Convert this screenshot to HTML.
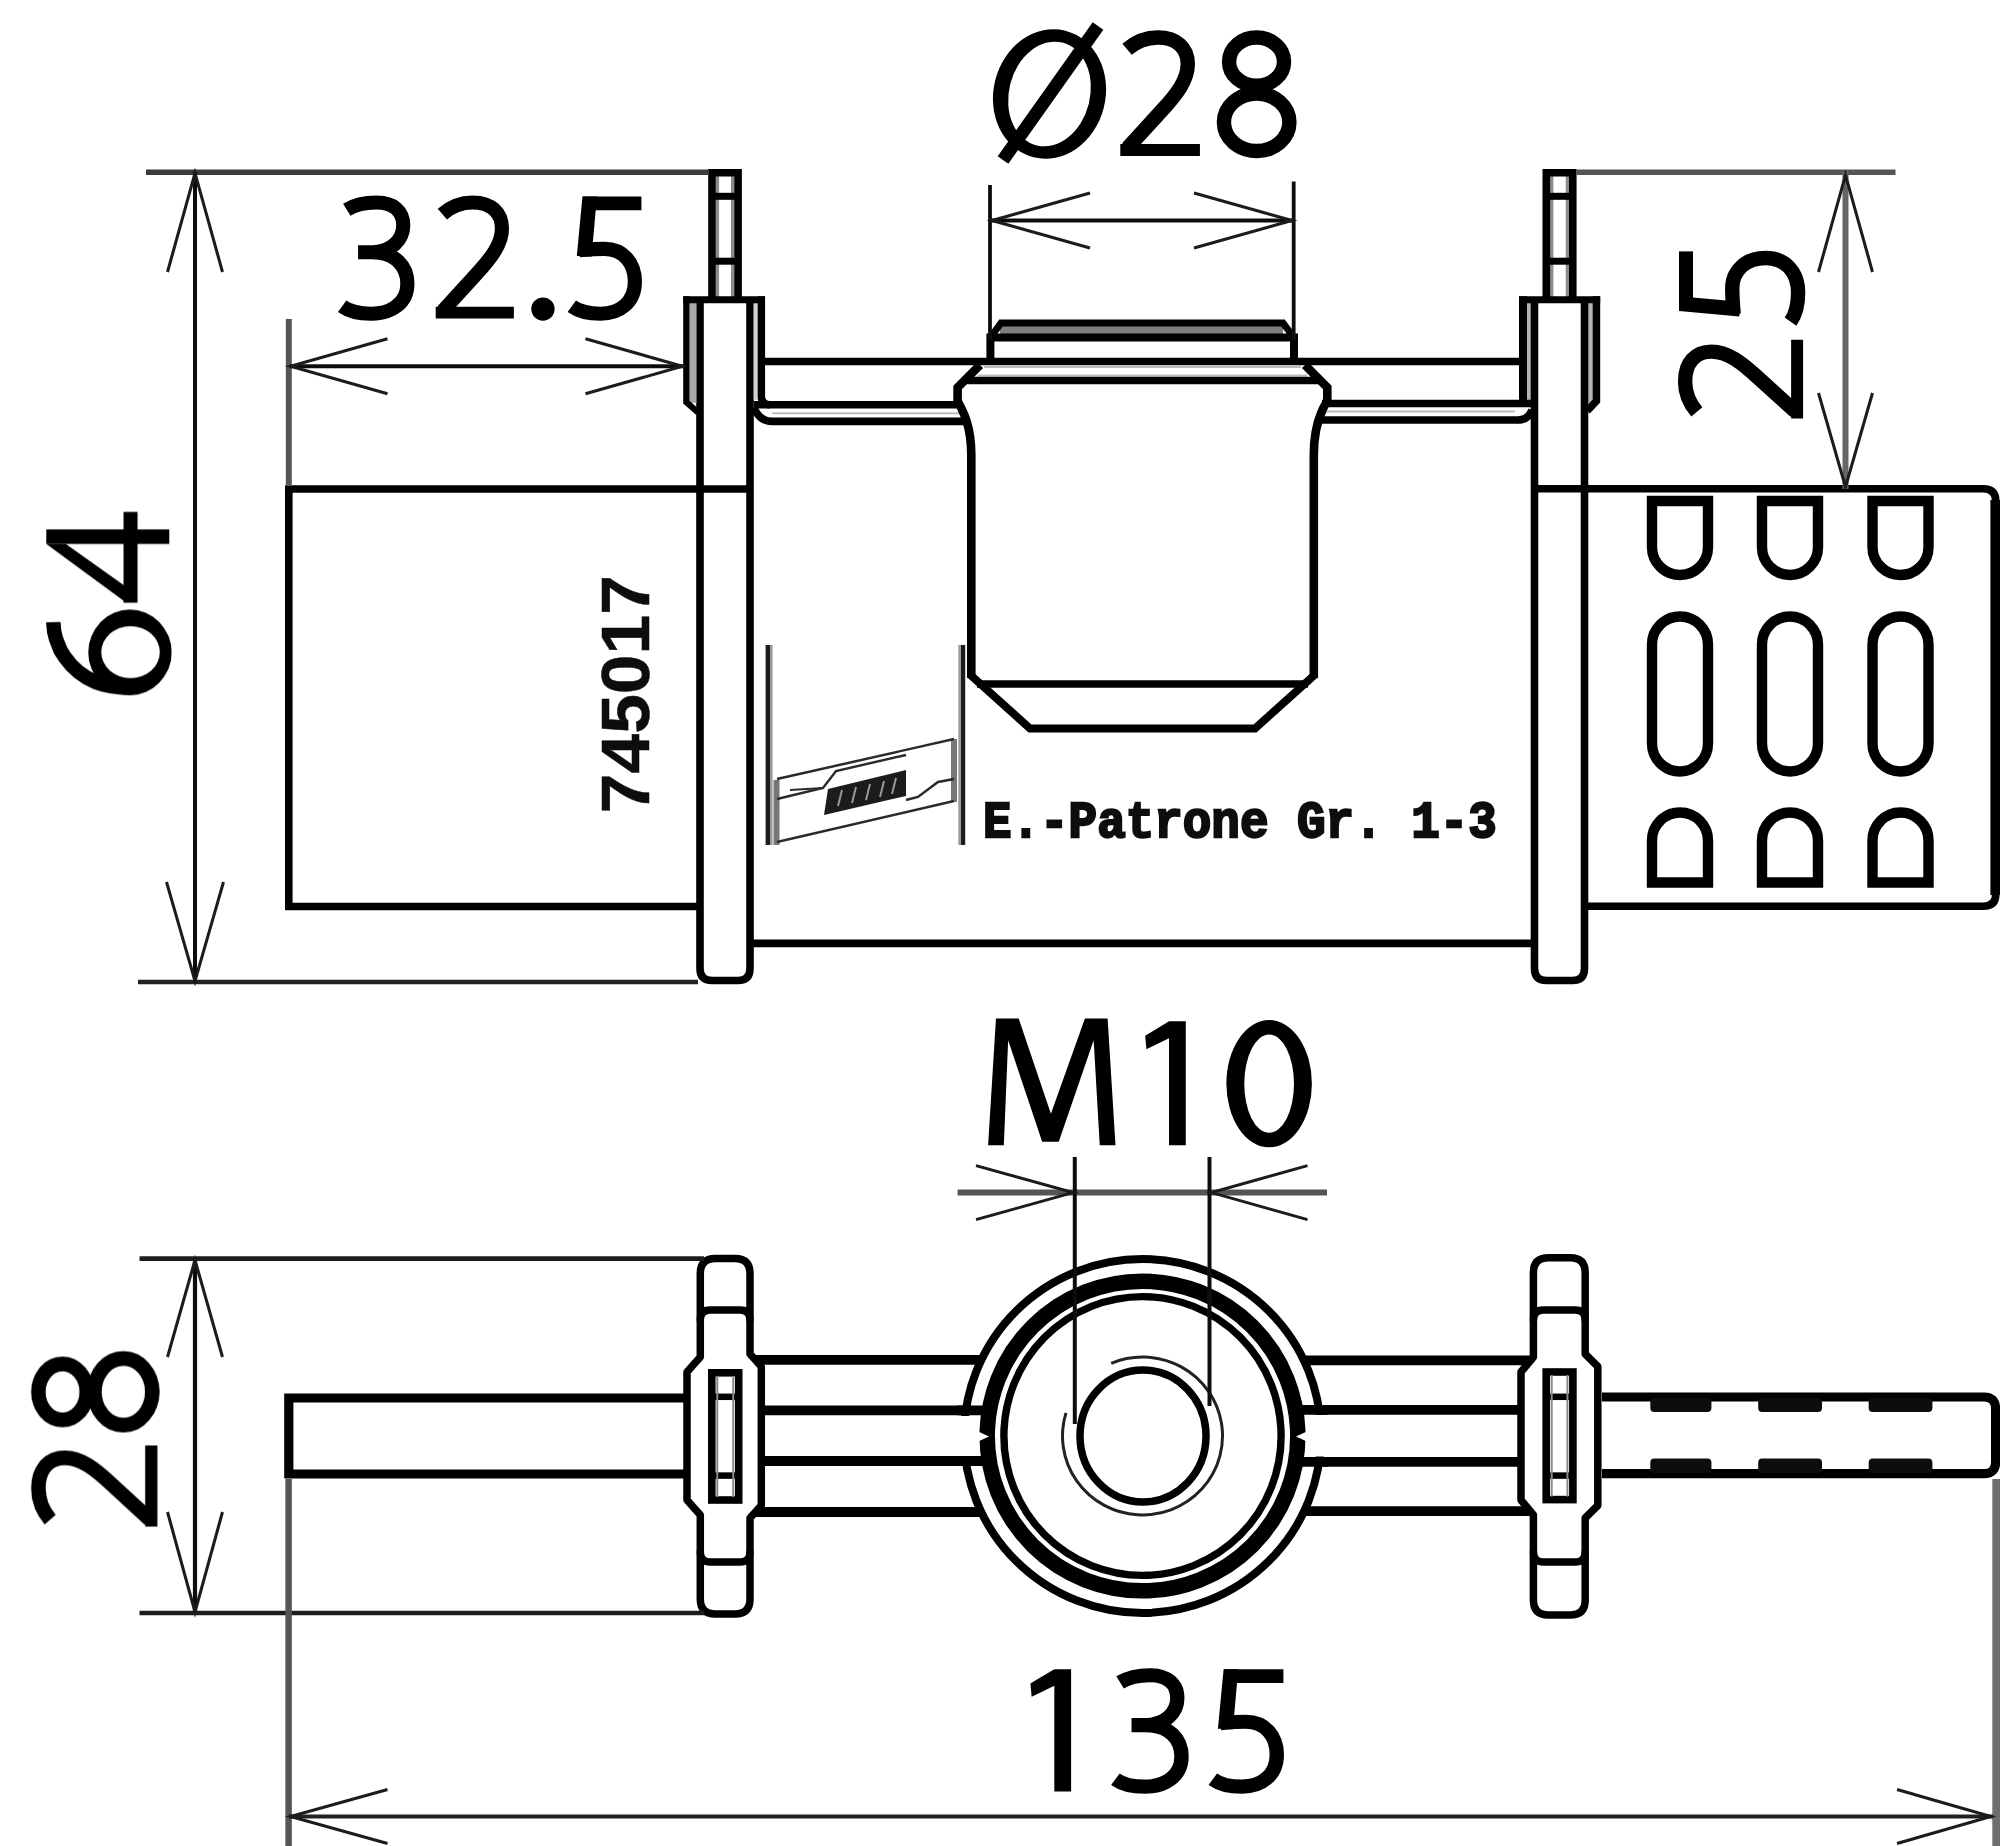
<!DOCTYPE html>
<html><head><meta charset="utf-8"><title>Drawing</title>
<style>html,body{margin:0;padding:0;background:#fff}svg{display:block}</style></head>
<body>
<svg width="2000" height="1846" viewBox="0 0 2000 1846">
<rect width="2000" height="1846" fill="#fff"/>
<defs><filter id="soft" x="0" y="0" width="2000" height="1846" filterUnits="userSpaceOnUse"><feGaussianBlur stdDeviation="0.75"/></filter></defs>
<g filter="url(#soft)">
<g id="topview">
<path d="M700,489 H288.8 V906.5 H700" fill="none" stroke="#000" stroke-width="7.6" stroke-linejoin="miter" stroke-linecap="butt"/>
<line x1="700" y1="489" x2="750" y2="489" stroke="#000" stroke-width="7.6" stroke-linecap="butt"/>
<path d="M700,300 V968.5 Q700,980.5 712,980.5 H738 Q750,980.5 750,968.5 V300" fill="none" stroke="#000" stroke-width="7.6" stroke-linejoin="miter" stroke-linecap="butt"/>
<line x1="717.4" y1="176" x2="717.4" y2="297" stroke="#8c8c8c" stroke-width="3.4" stroke-linecap="butt"/>
<line x1="732.7" y1="176" x2="732.7" y2="297" stroke="#8c8c8c" stroke-width="3.4" stroke-linecap="butt"/>
<path d="M712,300 V172.8 H738.1 V300" fill="none" stroke="#000" stroke-width="7.6" stroke-linejoin="miter" stroke-linecap="butt"/>
<line x1="712" y1="196.3" x2="738.1" y2="196.3" stroke="#000" stroke-width="7" stroke-linecap="butt"/>
<line x1="712" y1="261.2" x2="738.1" y2="261.2" stroke="#000" stroke-width="7" stroke-linecap="butt"/>
<line x1="1551.7" y1="176" x2="1551.7" y2="297" stroke="#8c8c8c" stroke-width="3.4" stroke-linecap="butt"/>
<line x1="1567.3999999999999" y1="176" x2="1567.3999999999999" y2="297" stroke="#8c8c8c" stroke-width="3.4" stroke-linecap="butt"/>
<path d="M1546.3,300 V172.8 H1572.8 V300" fill="none" stroke="#000" stroke-width="7.6" stroke-linejoin="miter" stroke-linecap="butt"/>
<line x1="1546.3" y1="196.3" x2="1572.8" y2="196.3" stroke="#000" stroke-width="7" stroke-linecap="butt"/>
<line x1="1546.3" y1="261.2" x2="1572.8" y2="261.2" stroke="#000" stroke-width="7" stroke-linecap="butt"/>
<rect x="689" y="303" width="7.4" height="100" fill="#a9a9a9"/>
<rect x="753.6" y="303" width="4.4" height="97" fill="#d2d2d2"/>
<path d="M765,299.8 H683.2" fill="none" stroke="#000" stroke-width="7" stroke-linejoin="miter" stroke-linecap="butt"/>
<path d="M686.3,296.3 V402 L698,412.5" fill="none" stroke="#000" stroke-width="6.2" stroke-linejoin="miter" stroke-linecap="butt"/>
<path d="M761.4,296.3 V396 Q761.4,404.8 770,404.8" fill="none" stroke="#000" stroke-width="7.4" stroke-linejoin="miter" stroke-linecap="butt"/>
<rect x="1527" y="303" width="4.4" height="97" fill="#b5b5b5"/>
<rect x="1588" y="303" width="4.6" height="100" fill="#b5b5b5"/>
<path d="M1519.2,299.8 H1600.2" fill="none" stroke="#000" stroke-width="7" stroke-linejoin="miter" stroke-linecap="butt"/>
<path d="M1596.4,296.3 V401 L1587,411" fill="none" stroke="#000" stroke-width="7.6" stroke-linejoin="miter" stroke-linecap="butt"/>
<path d="M1523,296.3 V400" fill="none" stroke="#000" stroke-width="8" stroke-linejoin="miter" stroke-linecap="butt"/>
<path d="M1534.5,300 V968.5 Q1534.5,980.5 1546.5,980.5 H1572.5 Q1584.5,980.5 1584.5,968.5 V300" fill="none" stroke="#000" stroke-width="7.6" stroke-linejoin="miter" stroke-linecap="butt"/>
<line x1="761.4" y1="361.5" x2="1523" y2="361.5" stroke="#000" stroke-width="7.6" stroke-linecap="butt"/>
<path d="M754,404.8 H958" fill="none" stroke="#000" stroke-width="7.6" stroke-linejoin="miter" stroke-linecap="butt"/>
<path d="M754,408 Q760,421.4 772,421.4 H966" fill="none" stroke="#000" stroke-width="7.6" stroke-linejoin="miter" stroke-linecap="butt"/>
<line x1="772" y1="413.2" x2="960" y2="413.2" stroke="#bbb" stroke-width="2" stroke-linecap="butt"/>
<path d="M1322,403.5 H1534" fill="none" stroke="#000" stroke-width="7.6" stroke-linejoin="miter" stroke-linecap="butt"/>
<path d="M1318,420 H1518 Q1528,420 1532,410" fill="none" stroke="#000" stroke-width="7.6" stroke-linejoin="miter" stroke-linecap="butt"/>
<line x1="1326" y1="411.5" x2="1515" y2="411.5" stroke="#bbb" stroke-width="2" stroke-linecap="butt"/>
<rect x="1000" y="326" width="283" height="9" fill="#7d7d7d"/>
<path d="M990.4,361 V337.5 H1294 V361" fill="none" stroke="#000" stroke-width="8" stroke-linejoin="miter" stroke-linecap="butt"/>
<path d="M990.5,337.5 L1001,323 H1283 L1293.8,337.5" fill="none" stroke="#000" stroke-width="7" stroke-linejoin="miter" stroke-linecap="butt"/>
<line x1="984" y1="367" x2="1301" y2="367" stroke="#bdbdbd" stroke-width="2" stroke-linecap="butt"/>
<line x1="978" y1="375.6" x2="1307" y2="375.6" stroke="#bdbdbd" stroke-width="2" stroke-linecap="butt"/>
<path d="M980,365 L957.6,387.5 V401 C962.5,410 971.3,425 971.3,455 V678" fill="none" stroke="#000" stroke-width="8.6" stroke-linejoin="miter" stroke-linecap="butt"/>
<path d="M1313.8,678 V455 C1313.8,425 1321.5,410 1327.3,401 V387.5 L1305,365" fill="none" stroke="#000" stroke-width="8.6" stroke-linejoin="miter" stroke-linecap="butt"/>
<path d="M970.5,675 L1030,728.5 H1255 L1314.5,675" fill="none" stroke="#000" stroke-width="7.8" stroke-linejoin="miter" stroke-linecap="butt"/>
<line x1="962" y1="380.5" x2="1322" y2="380.5" stroke="#000" stroke-width="7.6" stroke-linecap="butt"/>
<line x1="977" y1="684" x2="1308" y2="684" stroke="#000" stroke-width="7.6" stroke-linecap="butt"/>
<line x1="750" y1="943.3" x2="1534.5" y2="943.3" stroke="#000" stroke-width="7.8" stroke-linecap="butt"/>
<line x1="767.8" y1="645" x2="767.8" y2="845" stroke="#1c1c1c" stroke-width="4.4" stroke-linecap="butt"/>
<line x1="771.3" y1="645" x2="771.3" y2="845" stroke="#9a9a9a" stroke-width="2.6" stroke-linecap="butt"/>
<line x1="963" y1="645" x2="963" y2="845" stroke="#1c1c1c" stroke-width="4.4" stroke-linecap="butt"/>
<line x1="959.6" y1="645" x2="959.6" y2="845" stroke="#9a9a9a" stroke-width="2.6" stroke-linecap="butt"/>
<line x1="776.5" y1="780" x2="776.5" y2="845" stroke="#777" stroke-width="6" stroke-linecap="butt"/>
<line x1="954" y1="739" x2="954" y2="802" stroke="#777" stroke-width="6" stroke-linecap="butt"/>
<path d="M777,779 L954,739" fill="none" stroke="#2a2a2a" stroke-width="2.4" stroke-linejoin="miter" stroke-linecap="butt"/>
<path d="M777,842 L954,801" fill="none" stroke="#2a2a2a" stroke-width="2.4" stroke-linejoin="miter" stroke-linecap="butt"/>
<path d="M777,799 L823,788 L836,771 L906,755" fill="none" stroke="#2a2a2a" stroke-width="2.4" stroke-linejoin="miter" stroke-linecap="butt"/>
<path d="M906,800 L918,797 L938,782 L954,779" fill="none" stroke="#2a2a2a" stroke-width="2.4" stroke-linejoin="miter" stroke-linecap="butt"/>
<path d="M823,788 L790,790" fill="none" stroke="#2a2a2a" stroke-width="2.0" stroke-linejoin="miter" stroke-linecap="butt"/>
<path d="M828,789 L906,770 L906,796 L824,815 Z" fill="#1a1a1a"/>
<path d="M842,790 L838,806 M856,787 L852,803 M870,784 L866,800 M884,781 L880,797 M896,778 L892,794" fill="none" stroke="#999" stroke-width="2" stroke-linejoin="miter" stroke-linecap="butt"/>
<path d="M1584.5,488.7 H1983 Q1995.8,488.7 1995.8,501 V894 Q1995.8,906.3 1983,906.3 H1584.5" fill="none" stroke="#000" stroke-width="7.6" stroke-linejoin="miter" stroke-linecap="butt"/>
<line x1="1534.5" y1="488.7" x2="1584.5" y2="488.7" stroke="#000" stroke-width="7.6" stroke-linecap="butt"/>
<line x1="1995.2" y1="500" x2="1995.2" y2="895" stroke="#000" stroke-width="9.6" stroke-linecap="butt"/>
<path d="M1652,501 H1708 V547 A28,28 0 0 1 1652,547 Z" fill="none" stroke="#000" stroke-width="10.4" stroke-linejoin="miter" stroke-linecap="butt"/>
<path d="M1652,644.5 A28,28 0 0 1 1708,644.5 V743.5 A28,28 0 0 1 1652,743.5 Z" fill="none" stroke="#000" stroke-width="10.4" stroke-linejoin="miter" stroke-linecap="butt"/>
<path d="M1652,882.5 H1708 V840.5 A28,28 0 0 0 1652,840.5 Z" fill="none" stroke="#000" stroke-width="10.4" stroke-linejoin="miter" stroke-linecap="butt"/>
<path d="M1762,501 H1818 V547 A28,28 0 0 1 1762,547 Z" fill="none" stroke="#000" stroke-width="10.4" stroke-linejoin="miter" stroke-linecap="butt"/>
<path d="M1762,644.5 A28,28 0 0 1 1818,644.5 V743.5 A28,28 0 0 1 1762,743.5 Z" fill="none" stroke="#000" stroke-width="10.4" stroke-linejoin="miter" stroke-linecap="butt"/>
<path d="M1762,882.5 H1818 V840.5 A28,28 0 0 0 1762,840.5 Z" fill="none" stroke="#000" stroke-width="10.4" stroke-linejoin="miter" stroke-linecap="butt"/>
<path d="M1872.5,501 H1928.5 V547 A28,28 0 0 1 1872.5,547 Z" fill="none" stroke="#000" stroke-width="10.4" stroke-linejoin="miter" stroke-linecap="butt"/>
<path d="M1872.5,644.5 A28,28 0 0 1 1928.5,644.5 V743.5 A28,28 0 0 1 1872.5,743.5 Z" fill="none" stroke="#000" stroke-width="10.4" stroke-linejoin="miter" stroke-linecap="butt"/>
<path d="M1872.5,882.5 H1928.5 V840.5 A28,28 0 0 0 1872.5,840.5 Z" fill="none" stroke="#000" stroke-width="10.4" stroke-linejoin="miter" stroke-linecap="butt"/>
</g>
<g id="botview">
<line x1="752" y1="1359.8" x2="984" y2="1359.8" stroke="#000" stroke-width="9.799999999999999" stroke-linecap="butt"/>
<line x1="764" y1="1410.4" x2="990" y2="1410.4" stroke="#000" stroke-width="9.799999999999999" stroke-linecap="butt"/>
<line x1="764" y1="1461" x2="990" y2="1461" stroke="#000" stroke-width="9.799999999999999" stroke-linecap="butt"/>
<line x1="752" y1="1512" x2="984" y2="1512" stroke="#000" stroke-width="9.799999999999999" stroke-linecap="butt"/>
<line x1="1300" y1="1360.4" x2="1532" y2="1360.4" stroke="#000" stroke-width="9.799999999999999" stroke-linecap="butt"/>
<line x1="1294" y1="1409.8" x2="1519" y2="1409.8" stroke="#000" stroke-width="9.799999999999999" stroke-linecap="butt"/>
<line x1="1294" y1="1461.8" x2="1519" y2="1461.8" stroke="#000" stroke-width="9.799999999999999" stroke-linecap="butt"/>
<line x1="1300" y1="1511.2" x2="1532" y2="1511.2" stroke="#000" stroke-width="9.799999999999999" stroke-linecap="butt"/>
<ellipse cx="1142.5" cy="1436" rx="178.5" ry="177" fill="#fff" stroke="#000" stroke-width="8"/>
<rect x="955" y="1416" width="22" height="40" fill="#fff"/>
<rect x="1307" y="1415" width="24" height="41.5" fill="#fff"/>
<line x1="957" y1="1410.4" x2="990" y2="1410.4" stroke="#000" stroke-width="9.799999999999999" stroke-linecap="butt"/>
<line x1="957" y1="1461" x2="990" y2="1461" stroke="#000" stroke-width="9.799999999999999" stroke-linecap="butt"/>
<line x1="1294" y1="1409.8" x2="1328" y2="1409.8" stroke="#000" stroke-width="9.799999999999999" stroke-linecap="butt"/>
<line x1="1294" y1="1461.8" x2="1328" y2="1461.8" stroke="#000" stroke-width="9.799999999999999" stroke-linecap="butt"/>
<ellipse cx="1142.5" cy="1436" rx="155.3" ry="154.8" fill="#fff" stroke="#000" stroke-width="15.5"/>
<ellipse cx="1142.5" cy="1436" rx="138.6" ry="139.4" fill="none" stroke="#000" stroke-width="7.4"/>
<path d="M977,1431 L989,1436.5 L977,1442 Z" fill="#fff"/>
<path d="M1308,1431 L1296,1436.5 L1308,1442 Z" fill="#fff"/>
<ellipse cx="1143" cy="1436" rx="63" ry="66" fill="none" stroke="#000" stroke-width="7.5"/>
<path d="M1111.2,1363.3 A80,79 0 1 1 1066.0,1412.9" fill="none" stroke="#222" stroke-width="3"/>
<path d="M715.3,1258.6 Q700.3,1258.6 700.3,1273.6 V1357 L687,1372 V1500 L700.3,1515 V1599 Q700.3,1614 715.3,1614 H735 Q750,1614 750,1599 V1518 L761.3,1505.5 V1366.5 L750,1354 V1273.6 Q750,1258.6 735,1258.6 Z" fill="#fff" stroke="#000" stroke-width="7.5" stroke-linejoin="round" stroke-linecap="butt"/>
<path d="M700.3,1320 Q700.3,1310 710.3,1310 H740 Q750,1310 750,1320" fill="none" stroke="#000" stroke-width="7.4" stroke-linejoin="miter" stroke-linecap="round"/>
<path d="M700.3,1552 Q700.3,1562 710.3,1562 H740 Q750,1562 750,1552" fill="none" stroke="#000" stroke-width="7.4" stroke-linejoin="miter" stroke-linecap="round"/>
<rect x="711.8" y="1372.8" width="26.90000000000009" height="127.20000000000005" fill="#fff" stroke="#000" stroke-width="7.6"/>
<line x1="711.8" y1="1396.8" x2="738.7" y2="1396.8" stroke="#000" stroke-width="6.5" stroke-linecap="butt"/>
<line x1="711.8" y1="1475.6" x2="738.7" y2="1475.6" stroke="#000" stroke-width="6.5" stroke-linecap="butt"/>
<line x1="717.3" y1="1375.8" x2="717.3" y2="1497" stroke="#8a8a8a" stroke-width="2" stroke-linecap="butt"/>
<line x1="733.2" y1="1375.8" x2="733.2" y2="1497" stroke="#8a8a8a" stroke-width="2" stroke-linecap="butt"/>
<path d="M1548.4,1257.8 Q1533.4,1257.8 1533.4,1272.8 V1357 L1521,1372 V1500 L1533.4,1515 V1600 Q1533.4,1615 1548.4,1615 H1570.2 Q1585.2,1615 1585.2,1600 V1518 L1597.8,1505.5 V1366.5 L1585.2,1354 V1272.8 Q1585.2,1257.8 1570.2,1257.8 Z" fill="#fff" stroke="#000" stroke-width="7.5" stroke-linejoin="round" stroke-linecap="butt"/>
<path d="M1533.4,1320 Q1533.4,1310 1543.4,1310 H1575.2 Q1585.2,1310 1585.2,1320" fill="none" stroke="#000" stroke-width="7.4" stroke-linejoin="miter" stroke-linecap="round"/>
<path d="M1533.4,1552 Q1533.4,1562 1543.4,1562 H1575.2 Q1585.2,1562 1585.2,1552" fill="none" stroke="#000" stroke-width="7.4" stroke-linejoin="miter" stroke-linecap="round"/>
<rect x="1546.2" y="1372" width="26.700000000000045" height="127.59999999999991" fill="#fff" stroke="#000" stroke-width="7.6"/>
<line x1="1546.2" y1="1396.8" x2="1572.9" y2="1396.8" stroke="#000" stroke-width="6.5" stroke-linecap="butt"/>
<line x1="1546.2" y1="1475.6" x2="1572.9" y2="1475.6" stroke="#000" stroke-width="6.5" stroke-linecap="butt"/>
<line x1="1551.7" y1="1375" x2="1551.7" y2="1496.6" stroke="#8a8a8a" stroke-width="2" stroke-linecap="butt"/>
<line x1="1567.4" y1="1375" x2="1567.4" y2="1496.6" stroke="#8a8a8a" stroke-width="2" stroke-linecap="butt"/>
<path d="M685,1398 H288.8 V1474 H685" fill="none" stroke="#000" stroke-width="9.2" stroke-linejoin="miter" stroke-linecap="butt"/>
<path d="M1602,1397 H1984 Q1995.6,1397 1995.6,1409 V1462 Q1995.6,1473.6 1984,1473.6 H1602" fill="none" stroke="#000" stroke-width="9.2" stroke-linejoin="miter" stroke-linecap="butt"/>
<rect x="1650.3" y="1398" width="61.100000000000136" height="14" rx="4" fill="#111"/>
<rect x="1650.3" y="1458.5" width="61.100000000000136" height="14.5" rx="4" fill="#111"/>
<rect x="1758.2" y="1398" width="63.799999999999955" height="14" rx="4" fill="#111"/>
<rect x="1758.2" y="1458.5" width="63.799999999999955" height="14.5" rx="4" fill="#111"/>
<rect x="1868.7" y="1398" width="63.700000000000045" height="14" rx="4" fill="#111"/>
<rect x="1868.7" y="1458.5" width="63.700000000000045" height="14.5" rx="4" fill="#111"/>
</g>
<g id="dims">
<line x1="146" y1="172.3" x2="709" y2="172.3" stroke="#3a3a3a" stroke-width="5.5" stroke-linecap="butt"/>
<line x1="138" y1="982" x2="698" y2="982" stroke="#222" stroke-width="4.6" stroke-linecap="butt"/>
<line x1="195" y1="172" x2="195" y2="982" stroke="#111" stroke-width="4" stroke-linecap="butt"/>
<path d="M167.5,272.0 L195.0,173.0 L222.5,272.0" fill="none" stroke="#1a1a1a" stroke-width="3" stroke-linejoin="miter"/>
<path d="M223.5,882.0 L195.0,981.0 L166.5,882.0" fill="none" stroke="#1a1a1a" stroke-width="3" stroke-linejoin="miter"/>
<g transform="translate(46.30,695.30) rotate(-90) scale(1.2613,1.2618)"><g transform="translate(0,0)"><path d="M58,5.6 C38,6 19,19 10.5,39 C7,48 6,57 6,67" fill="none" stroke="#000" stroke-width="11.5" stroke-linecap="butt" stroke-linejoin="round"/><path d="M0,66.3 A34,33 0 1 0 68,66.3 A34,33 0 1 0 0,66.3 Z M13.600000000000001,66.8 A20.6,23.2 0 1 0 54.800000000000004,66.8 A20.6,23.2 0 1 0 13.600000000000001,66.8 Z" fill="#000" fill-rule="evenodd"/></g><g transform="translate(73.4,0)"><path d="M46.6,0 H58.1 V97.4 H46.6 Z" fill="#000" fill-rule="nonzero"/><path d="M0,61.3 H72 V72.4 H0 Z" fill="#000" fill-rule="nonzero"/><path d="M46.6,0 L0.3,63 L12.8,63 L46.6,15.5 Z" fill="#000" fill-rule="nonzero"/></g></g>
<line x1="288.8" y1="319" x2="288.8" y2="486" stroke="#555" stroke-width="6" stroke-linecap="butt"/>
<line x1="290" y1="366.3" x2="683" y2="366.3" stroke="#111" stroke-width="4" stroke-linecap="butt"/>
<path d="M387.5,393.8 L290.5,366.3 L387.5,338.8" fill="none" stroke="#1a1a1a" stroke-width="3" stroke-linejoin="miter"/>
<path d="M585.5,338.8 L682.5,366.3 L585.5,393.8" fill="none" stroke="#1a1a1a" stroke-width="3" stroke-linejoin="miter"/>
<g transform="translate(339.90,196.50) scale(1.2542,1.2536)"><g transform="translate(0,0)"><path d="M5.5,10.5 C12,6.5 20,4.8 29,4.8 C43,4.8 50.5,12 50.5,23 C50.5,35 41,43.5 27,44.5 L14.5,44.5" fill="none" stroke="#000" stroke-width="11.3" stroke-linecap="butt" stroke-linejoin="round"/><path d="M27,44.5 C44,45 53.8,55.5 53.8,69.5 C53.8,85 41,93.5 25,93.5 C15,93.5 7,91.3 1.8,87.5" fill="none" stroke="#000" stroke-width="11.3" stroke-linecap="butt" stroke-linejoin="round"/></g><g transform="translate(75.7,0)"><path d="M6,14 C13,8 21,4.8 30,4.8 C45,4.8 53.5,13 53.5,25.5 C53.5,38 45,49 33,62 L6.3,91.3" fill="none" stroke="#000" stroke-width="11.3" stroke-linecap="butt" stroke-linejoin="round"/><path d="M0.7,88 H63 V97.4 H0.7 Z" fill="#000" fill-rule="nonzero"/></g><g transform="translate(152.6,0)"><path d="M0.0,89.8 A9.3,9.3 0 1 0 18.6,89.8 A9.3,9.3 0 1 0 0.0,89.8 Z" fill="#000" fill-rule="nonzero"/></g><g transform="translate(182.9,0)"><path d="M11,0 H57.5 V11 H11 Z" fill="#000" fill-rule="nonzero"/><path d="M10.5,0 L22,0 L17.8,47.8 L6,47.4 Z" fill="#000" fill-rule="nonzero"/><path d="M8,42.9 C15,42.3 22,41.8 28,41.8 C43,41.8 52.3,53 52.3,68 C52.3,84.5 40,93.5 25,93.5 C15,93.5 7.5,91.5 2,87.5" fill="none" stroke="#000" stroke-width="11.3" stroke-linecap="butt" stroke-linejoin="round"/></g></g>
<line x1="990" y1="185" x2="990" y2="340" stroke="#111" stroke-width="3.8" stroke-linecap="butt"/>
<line x1="1293.7" y1="181.5" x2="1293.7" y2="340" stroke="#111" stroke-width="3.8" stroke-linecap="butt"/>
<line x1="990" y1="220.5" x2="1293.7" y2="220.5" stroke="#111" stroke-width="4" stroke-linecap="butt"/>
<path d="M1090.0,248.0 L992.0,220.5 L1090.0,193.0" fill="none" stroke="#1a1a1a" stroke-width="3" stroke-linejoin="miter"/>
<path d="M1194.0,193.0 L1292.0,220.5 L1194.0,248.0" fill="none" stroke="#1a1a1a" stroke-width="3" stroke-linejoin="miter"/>
<g transform="translate(1119.40,31.45) scale(1.2781,1.2787)"><g transform="translate(0,0)"><path d="M6,14 C13,8 21,4.8 30,4.8 C45,4.8 53.5,13 53.5,25.5 C53.5,38 45,49 33,62 L6.3,91.3" fill="none" stroke="#000" stroke-width="11.3" stroke-linecap="butt" stroke-linejoin="round"/><path d="M0.7,88 H63 V97.4 H0.7 Z" fill="#000" fill-rule="nonzero"/></g><g transform="translate(75.5,0)"><path d="M10.3,23.6 A21.5,18.8 0 1 0 53.3,23.6 A21.5,18.8 0 1 0 10.3,23.6 Z" fill="none" stroke="#000" stroke-width="11.3" stroke-linecap="butt" stroke-linejoin="round"/><path d="M6.299999999999997,71 A25.6,22.5 0 1 0 57.5,71 A25.6,22.5 0 1 0 6.299999999999997,71 Z" fill="none" stroke="#000" stroke-width="11.3" stroke-linecap="butt" stroke-linejoin="round"/></g></g>
<g transform="translate(1049.5,94) rotate(14)"><path d="M-56,0 A56,65.3 0 1 0 56,0 A56,65.3 0 1 0 -56,0 Z M-40.5,0 A40.5,53 0 1 0 40.5,0 A40.5,53 0 1 0 -40.5,0 Z" fill="#000" fill-rule="evenodd"/></g>
<line x1="1003" y1="160" x2="1098" y2="26" stroke="#000" stroke-width="13" stroke-linecap="butt"/>
<line x1="1576.5" y1="172.3" x2="1895.5" y2="172.3" stroke="#555" stroke-width="5.5" stroke-linecap="butt"/>
<line x1="1845.5" y1="172" x2="1845.5" y2="489" stroke="#666" stroke-width="6" stroke-linecap="butt"/>
<path d="M1818.5,272.0 L1845.5,175.0 L1872.5,272.0" fill="none" stroke="#1a1a1a" stroke-width="3" stroke-linejoin="miter"/>
<path d="M1872.5,393.0 L1845.5,487.0 L1818.5,393.0" fill="none" stroke="#1a1a1a" stroke-width="3" stroke-linejoin="miter"/>
<g transform="translate(1679.00,419.40) rotate(-90) scale(1.2661,1.2741)"><g transform="translate(0,0)"><path d="M6,14 C13,8 21,4.8 30,4.8 C45,4.8 53.5,13 53.5,25.5 C53.5,38 45,49 33,62 L6.3,91.3" fill="none" stroke="#000" stroke-width="11.3" stroke-linecap="butt" stroke-linejoin="round"/><path d="M0.7,88 H63 V97.4 H0.7 Z" fill="#000" fill-rule="nonzero"/></g><g transform="translate(75.2,0)"><path d="M11,0 H57.5 V11 H11 Z" fill="#000" fill-rule="nonzero"/><path d="M10.5,0 L22,0 L17.8,47.8 L6,47.4 Z" fill="#000" fill-rule="nonzero"/><path d="M8,42.9 C15,42.3 22,41.8 28,41.8 C43,41.8 52.3,53 52.3,68 C52.3,84.5 40,93.5 25,93.5 C15,93.5 7.5,91.5 2,87.5" fill="none" stroke="#000" stroke-width="11.3" stroke-linecap="butt" stroke-linejoin="round"/></g></g>
<line x1="957.6" y1="1192.6" x2="1327" y2="1192.6" stroke="#555" stroke-width="6" stroke-linecap="butt"/>
<line x1="1074.8" y1="1157" x2="1074.8" y2="1424" stroke="#111" stroke-width="4" stroke-linecap="butt"/>
<line x1="1209.5" y1="1157" x2="1209.5" y2="1406" stroke="#111" stroke-width="4" stroke-linecap="butt"/>
<path d="M976.0,1165.6 L1073.0,1192.6 L976.0,1219.6" fill="none" stroke="#1a1a1a" stroke-width="3" stroke-linejoin="miter"/>
<path d="M1307.5,1219.6 L1211.5,1192.6 L1307.5,1165.6" fill="none" stroke="#1a1a1a" stroke-width="3" stroke-linejoin="miter"/>
<g transform="translate(988.10,1021.35) scale(1.2688,1.2722)"><g transform="translate(0,0)"><path d="M0,97.4 L6.2,-2.3 L24.1,-2.3 L49.5,72.6 L76.3,-2.3 L94.2,-2.3 L100.4,97.4 L88,97.4 L83.2,14.9 L55.7,94.6 L42.6,94.6 L15.8,14.9 L12.4,97.4 Z" fill="#000" fill-rule="nonzero"/></g><g transform="translate(123.8,0)"><path d="M18.8,0 H32 V97.4 H18.8 V13.2 L1,22 L0,11.3 Z" fill="#000" fill-rule="nonzero"/></g><g transform="translate(187.8,0)"><path d="M0.0,49 A33.7,50 0 1 0 67.4,49 A33.7,50 0 1 0 0.0,49 Z M14.100000000000001,49 A19.6,38.6 0 1 0 53.300000000000004,49 A19.6,38.6 0 1 0 14.100000000000001,49 Z" fill="#000" fill-rule="evenodd"/></g></g>
<line x1="139.5" y1="1258.6" x2="704" y2="1258.6" stroke="#1e1e1e" stroke-width="4.6" stroke-linecap="butt"/>
<line x1="139.5" y1="1613" x2="704" y2="1613" stroke="#1e1e1e" stroke-width="4.6" stroke-linecap="butt"/>
<line x1="195" y1="1258" x2="195" y2="1613" stroke="#111" stroke-width="4.2" stroke-linecap="butt"/>
<path d="M167.5,1357.0 L195.0,1260.0 L222.5,1357.0" fill="none" stroke="#1a1a1a" stroke-width="3" stroke-linejoin="miter"/>
<path d="M222.5,1512.0 L195.0,1612.0 L167.5,1512.0" fill="none" stroke="#1a1a1a" stroke-width="3" stroke-linejoin="miter"/>
<g transform="translate(32.20,1527.50) rotate(-90) scale(1.3023,1.2844)"><g transform="translate(0,0)"><path d="M6,14 C13,8 21,4.8 30,4.8 C45,4.8 53.5,13 53.5,25.5 C53.5,38 45,49 33,62 L6.3,91.3" fill="none" stroke="#000" stroke-width="11.3" stroke-linecap="butt" stroke-linejoin="round"/><path d="M0.7,88 H63 V97.4 H0.7 Z" fill="#000" fill-rule="nonzero"/></g><g transform="translate(72.3,0)"><path d="M10.3,23.6 A21.5,18.8 0 1 0 53.3,23.6 A21.5,18.8 0 1 0 10.3,23.6 Z" fill="none" stroke="#000" stroke-width="11.3" stroke-linecap="butt" stroke-linejoin="round"/><path d="M6.299999999999997,71 A25.6,22.5 0 1 0 57.5,71 A25.6,22.5 0 1 0 6.299999999999997,71 Z" fill="none" stroke="#000" stroke-width="11.3" stroke-linecap="butt" stroke-linejoin="round"/></g></g>
<line x1="288.6" y1="1479" x2="288.6" y2="1846" stroke="#555" stroke-width="6.5" stroke-linecap="butt"/>
<line x1="1996.3" y1="1479" x2="1996.3" y2="1846" stroke="#6e6e6e" stroke-width="8" stroke-linecap="butt"/>
<line x1="289" y1="1816.5" x2="1993" y2="1816.5" stroke="#222" stroke-width="4" stroke-linecap="butt"/>
<path d="M387.5,1843.5 L290.5,1816.5 L387.5,1789.5" fill="none" stroke="#1a1a1a" stroke-width="3" stroke-linejoin="miter"/>
<path d="M1897.0,1789.5 L1991.0,1816.5 L1897.0,1843.5" fill="none" stroke="#1a1a1a" stroke-width="3" stroke-linejoin="miter"/>
<g transform="translate(1030.40,1669.20) scale(1.2720,1.2567)"><g transform="translate(0,0)"><path d="M18.8,0 H32 V97.4 H18.8 V13.2 L1,22 L0,11.3 Z" fill="#000" fill-rule="nonzero"/></g><g transform="translate(65,0)"><path d="M5.5,10.5 C12,6.5 20,4.8 29,4.8 C43,4.8 50.5,12 50.5,23 C50.5,35 41,43.5 27,44.5 L14.5,44.5" fill="none" stroke="#000" stroke-width="11.3" stroke-linecap="butt" stroke-linejoin="round"/><path d="M27,44.5 C44,45 53.8,55.5 53.8,69.5 C53.8,85 41,93.5 25,93.5 C15,93.5 7,91.3 1.8,87.5" fill="none" stroke="#000" stroke-width="11.3" stroke-linecap="butt" stroke-linejoin="round"/></g><g transform="translate(141.4,0)"><path d="M11,0 H57.5 V11 H11 Z" fill="#000" fill-rule="nonzero"/><path d="M10.5,0 L22,0 L17.8,47.8 L6,47.4 Z" fill="#000" fill-rule="nonzero"/><path d="M8,42.9 C15,42.3 22,41.8 28,41.8 C43,41.8 52.3,53 52.3,68 C52.3,84.5 40,93.5 25,93.5 C15,93.5 7.5,91.5 2,87.5" fill="none" stroke="#000" stroke-width="11.3" stroke-linecap="butt" stroke-linejoin="round"/></g></g>
<text transform="translate(648.81,813.21) rotate(-90) scale(0.3569,0.3451)" font-family="Liberation Sans" font-weight="bold" font-size="200" fill="#111" stroke="#111" stroke-width="1.5" xml:space="preserve">745017</text>
<text transform="translate(982.91,837.08) scale(0.2380,0.2613)" font-family="Liberation Mono" font-weight="bold" font-size="200" fill="#111" stroke="#111" stroke-width="9" xml:space="preserve">E.-Patrone Gr. 1-3</text>
</g>
</g>
</svg>
</body></html>
